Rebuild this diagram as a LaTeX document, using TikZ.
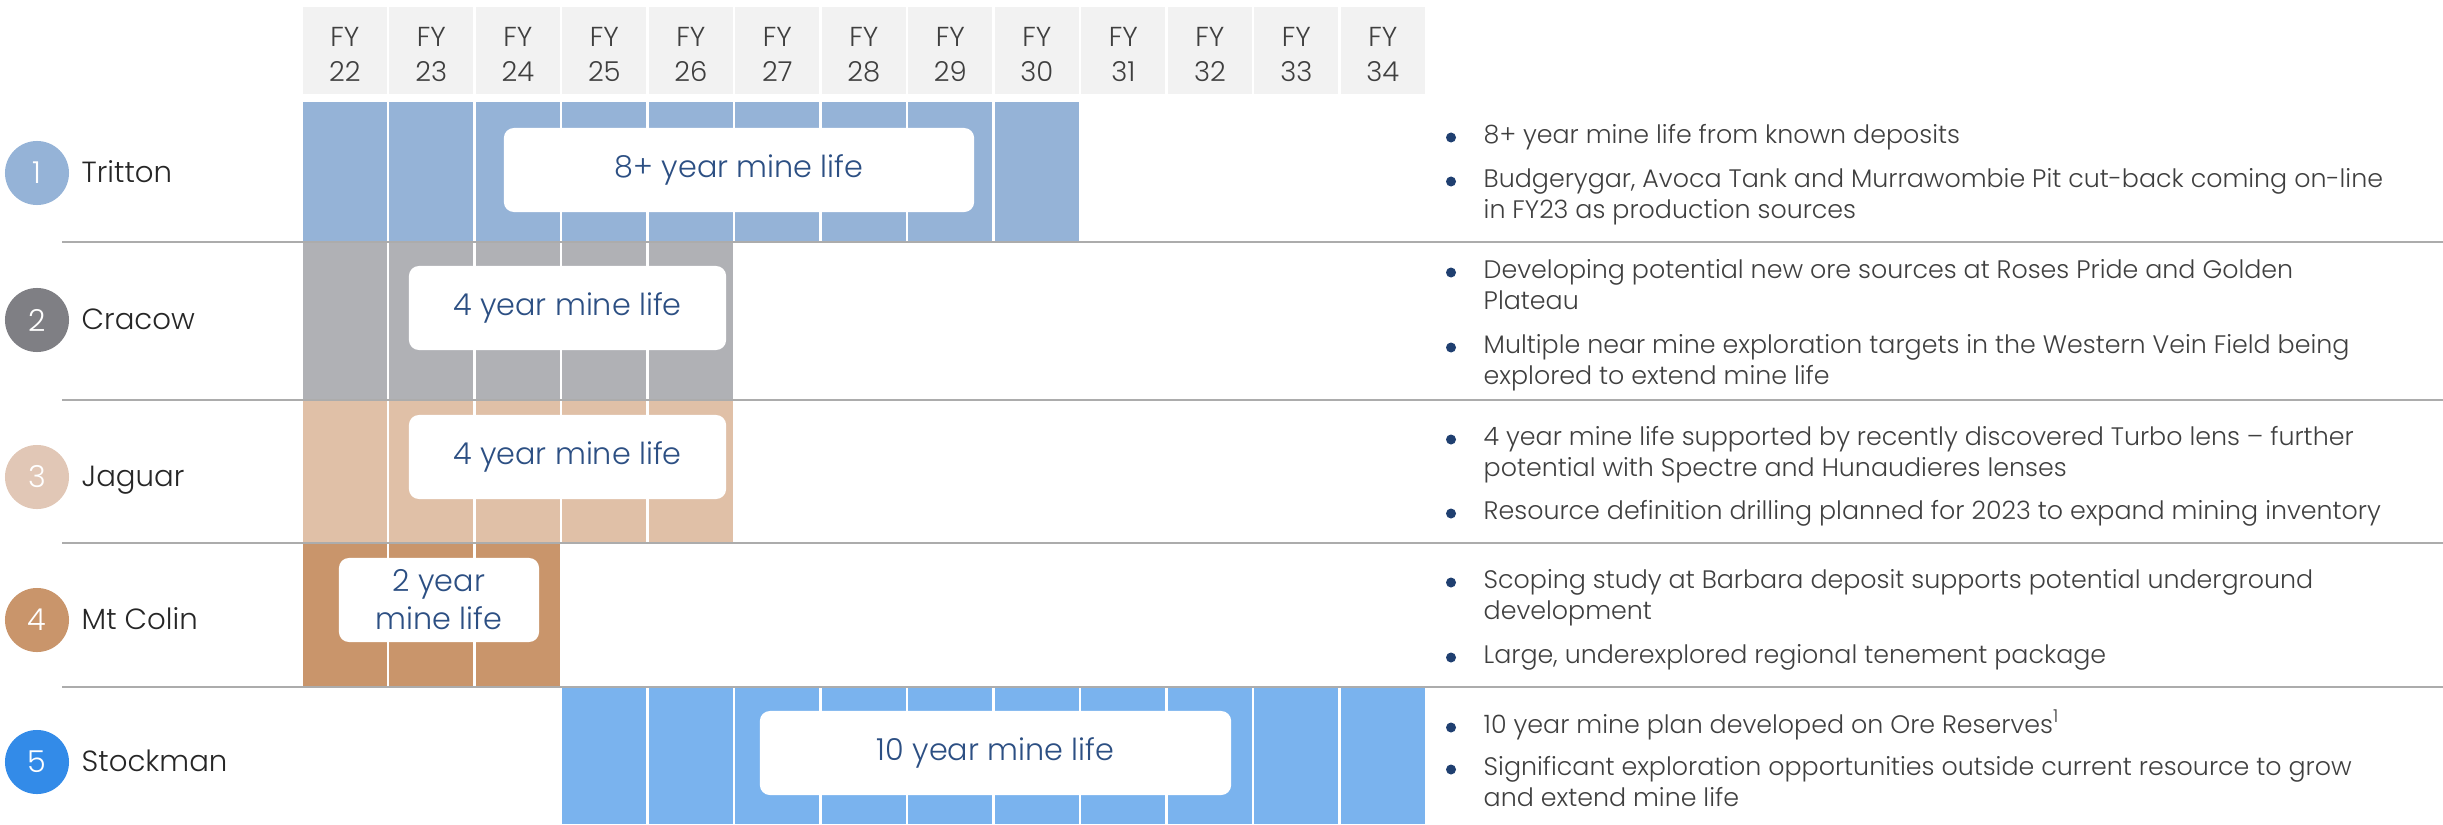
\documentclass[tikz,border=0pt]{standalone}
\usepackage{fontspec}
\setmainfont{Poppins Light}
\definecolor{hdrgray}{HTML}{F2F2F2}
\definecolor{trit}{HTML}{95B3D7}
\definecolor{crabar}{HTML}{B0B1B5}
\definecolor{cracirc}{HTML}{7F7F84}
\definecolor{jagbar}{HTML}{E0C0A7}
\definecolor{jagcirc}{HTML}{E1C7B6}
\definecolor{mtcbar}{HTML}{C9956B}
\definecolor{stkbar}{HTML}{7AB3EE}
\definecolor{stkcirc}{HTML}{338BE8}
\definecolor{lifeblue}{HTML}{2C4F83}
\definecolor{navy}{HTML}{1F3F70}
\definecolor{bodygray}{HTML}{3F3F3F}
\def\fyx{301.6}
\def\fyw{86.5}
\begin{document}
\begin{tikzpicture}[x=0.01cm, y=-0.01cm,
	hdr/.style={fill=hdrgray},
	yr/.style={anchor=base, align=center, text=bodygray, font=\fontsize{7.8}{9.7}\selectfont},
	num/.style={circle, inner sep=0pt, minimum size=0.64cm, text=white, font=\fontsize{8.6}{10}\selectfont},
	site/.style={anchor=base west, inner sep=0pt, text=black!85, font=\fontsize{8.3}{10}\selectfont},
	life/.style={fill=white, rounded corners=0.1cm, minimum height=0.84cm, inner sep=0pt, align=center, text=lifeblue, font=\fontsize{8.6}{10.8}\selectfont},
	sep/.style={draw=gray!65, line width=0.02cm},
	dot/.style={circle, fill=navy, inner sep=0pt, minimum size=0.1cm},
	note/.style={anchor=base west, inner sep=0pt, align=left, text=bodygray, font=\fontsize{7.2}{8.8}\selectfont}]
	\useasboundingbox (0,0) rectangle (2443,824);
	% year header
	\foreach \i [evaluate=\i as \yr using int(22+\i)] in {0,...,12}{
		\fill[hdr] ({\fyx+\i*\fyw+1.2},7) rectangle ({\fyx+(\i+1)*\fyw-1.2},94);
		\node[yr] (fy\i) at ({\fyx+(\i+0.5)*\fyw},81) {FY\\\yr};
	}
	% mine life bars
	\foreach \c/\a/\b/\top/\bot in {trit/0/8/102/241, crabar/0/4/241/399.5, jagbar/0/4/399.5/543, mtcbar/0/2/543/687, stkbar/3/12/687/824}{
		\foreach \i in {\a,...,\b}{
			\fill[\c] ({\fyx+\i*\fyw+1.2},\top) rectangle ({\fyx+(\i+1)*\fyw-1.2},\bot);
		}
	}
	\foreach \y in {241.5,399.5,543,687}{
		\draw[sep] (62,\y) -- (2443,\y);
	}
	\node[life, minimum width=4.70cm] (tlife) at (739,170) {8+ year mine life};
	\node[life, minimum width=3.17cm] (clife) at (567.5,308) {4 year mine life};
	\node[life, minimum width=3.17cm] (jlife) at (567.5,457) {4 year mine life};
	\node[life, minimum width=2.00cm] (mlife) at (439,600) {2 year\\mine life};
	\node[life, minimum width=4.71cm] (slife) at (995.5,753) {10 year mine life};
	% sites
	\foreach \n/\name/\c/\y in {1/Tritton/trit/173, 2/Cracow/cracirc/320, 3/Jaguar/jagcirc/477, 4/Mt Colin/mtcbar/620, 5/Stockman/stkcirc/762}{
		\node[num, fill=\c] (num\n) at (37,\y) {\n};
		\node[site] (site\n) at (81,\y+9) {\name};
	}
	% notes (\m = extra lines)
	\foreach \y/\m/\txt [count=\k] in {
		143/0/{8+ year mine life from known deposits},
		187/1/{Budgerygar, Avoca Tank and Murrawombie Pit cut-back coming on-line\\in FY23 as production sources},
		278/1/{Developing potential new ore sources at Roses Pride and Golden\\Plateau},
		353/1/{Multiple near mine exploration targets in the Western Vein Field being\\explored to extend mine life},
		445/1/{4 year mine life supported by recently discovered Turbo lens – further\\potential with Spectre and Hunaudieres lenses},
		519/0/{Resource definition drilling planned for 2023 to expand mining inventory},
		588/1/{Scoping study at Barbara deposit supports potential underground\\development},
		663/0/{Large, underexplored regional tenement package},
		733/0/{10 year mine plan developed on Ore Reserves\textsuperscript{1}},
		775/1/{Significant exploration opportunities outside current resource to grow\\and extend mine life}}{
		\node[dot] (dot\k) at (1451,\y-5.5) {};
		\node[note] (note\k) at (1483,\y+31*\m) {\txt};
	}
\end{tikzpicture}
\end{document}
